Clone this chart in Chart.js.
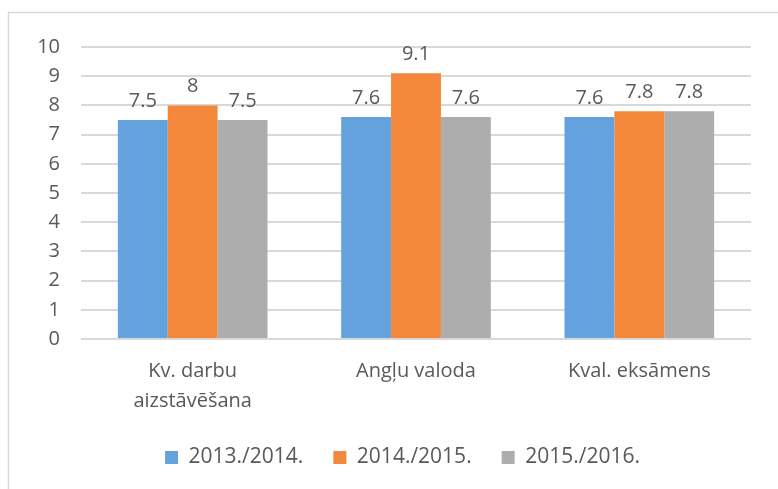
<!DOCTYPE html>
<html>
<head>
<meta charset="utf-8">
<script src="https://cdn.jsdelivr.net/npm/chart.js@4/dist/chart.umd.min.js"></script>
<style>
  html, body { margin: 0; padding: 0; background: #fff; }
  #wrap { position: relative; width: 778px; height: 489px; }
</style>
</head>
<body>
<div id="wrap"><canvas id="c" width="778" height="489"></canvas></div>
<script>
const categories = [['Kv. darbu', 'aizstāvēšana'], 'Angļu valoda', 'Kval. eksāmens'];
const seriesNames = ['2013./2014.', '2014./2015.', '2015./2016.'];
const values2013 = [7.5, 7.6, 7.6];
const values2014 = [8, 9.1, 7.8];
const values2015 = [7.5, 7.6, 7.8];
const yTicks = [0, 1, 2, 3, 4, 5, 6, 7, 8, 9, 10];

const colors = ['#64A2DE', '#F4883A', '#ADADAD'];
const textColor = '#595959';
const FONT = "'Open Sans', sans-serif";

const frame = {
  id: 'frame',
  beforeDraw(chart) {
    const ctx = chart.ctx;
    ctx.save();
    ctx.fillStyle = '#fff';
    ctx.fillRect(0, 0, chart.width, chart.height);
    ctx.strokeStyle = '#D9D9D9';
    ctx.lineWidth = 1.5;
    ctx.beginPath();
    ctx.moveTo(8.5, chart.height);
    ctx.lineTo(8.5, 12.5);
    ctx.lineTo(chart.width, 12.5);
    ctx.stroke();
    ctx.restore();
  }
};

const legendShift = {
  id: 'legendShift',
  afterLayout(chart) {
    if (chart.legend) {
      chart.legend.left += 27;
      chart.legend.right += 27;
    }
  }
};

const barLabels = {
  id: 'barLabels',
  afterDatasetsDraw(chart) {
    const ctx = chart.ctx;
    ctx.save();
    ctx.font = '20px ' + FONT;
    ctx.fillStyle = textColor;
    ctx.textAlign = 'center';
    ctx.textBaseline = 'middle';
    chart.data.datasets.forEach((ds, i) => {
      chart.getDatasetMeta(i).data.forEach((bar, j) => {
        ctx.fillText(String(ds.data[j]), bar.x, bar.y - 19);
      });
    });
    ctx.restore();
  }
};

new Chart(document.getElementById('c'), {
  type: 'bar',
  data: {
    labels: categories,
    datasets: [
      { label: seriesNames[0], data: values2013, backgroundColor: colors[0] },
      { label: seriesNames[1], data: values2014, backgroundColor: colors[1] },
      { label: seriesNames[2], data: values2015, backgroundColor: colors[2] }
    ]
  },
  options: {
    responsive: false,
    animation: false,
    events: [],
    layout: { padding: { top: 47, right: 27, left: 0, bottom: 11 } },
    datasets: { bar: { categoryPercentage: 0.67, barPercentage: 1.0 } },
    plugins: {
      legend: {
        position: 'bottom',
        labels: {
          boxWidth: 13, boxHeight: 13, padding: 30,
          color: textColor,
          font: { family: FONT, size: 21 }
        }
      },
      tooltip: { enabled: false }
    },
    scales: {
      x: {
        grid: { display: false, drawTicks: false },
        border: { display: false },
        ticks: {
          color: textColor, padding: 17, maxRotation: 0, autoSkip: false,
          font: { family: FONT, size: 20, lineHeight: 1.5 }
        },
        afterFit(scale) { scale.height = 78; }
      },
      y: {
        min: 0, max: 10,
        afterBuildTicks(scale) { scale.ticks = yTicks.map(v => ({ value: v })); },
        grid: { color: '#D9D9D9', lineWidth: 2, drawTicks: false },
        border: { display: false },
        ticks: {
          color: textColor, padding: 21,
          font: { family: FONT, size: 20 }
        },
        afterFit(scale) { scale.width = 81; }
      }
    }
  },
  plugins: [frame, legendShift, barLabels]
});
</script>
</body>
</html>
